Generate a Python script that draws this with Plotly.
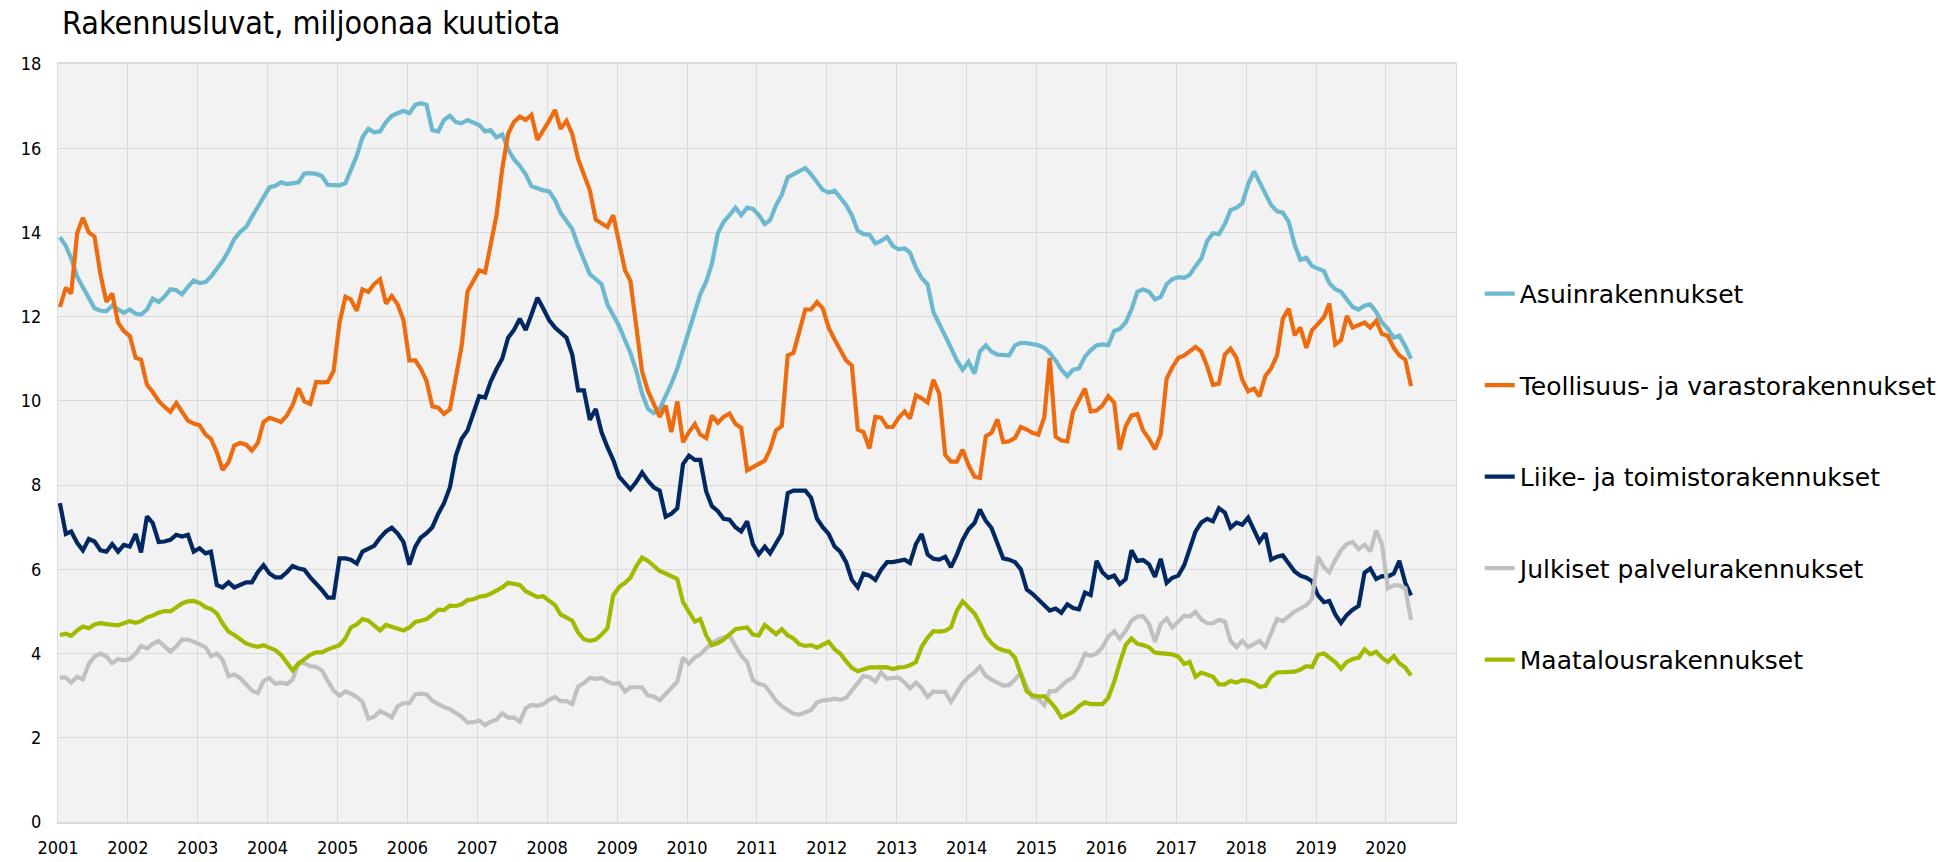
import pandas as pd
import plotly.graph_objects as go

# ---------------- data (monthly, Jan 2001 - May 2020) ----------------
start_month = "2001-01-01"
year_ticks = list(range(2001, 2021))

series_names = [
    "Asuinrakennukset",
    "Teollisuus- ja varastorakennukset",
    "Liike- ja toimistorakennukset",
    "Julkiset palvelurakennukset",
    "Maatalousrakennukset",
]

asuin = [
    13.89, 13.68, 13.38, 12.95, 12.70, 12.47, 12.20, 12.14, 12.13, 12.26, 12.17, 12.09,
    12.17, 12.07, 12.05, 12.17, 12.43, 12.35, 12.47, 12.65, 12.63, 12.53, 12.71, 12.86,
    12.80, 12.82, 12.95, 13.14, 13.32, 13.56, 13.84, 14.01, 14.13, 14.37, 14.60, 14.85,
    15.07, 15.11, 15.19, 15.15, 15.16, 15.19, 15.40, 15.41, 15.39, 15.34, 15.13, 15.12,
    15.12, 15.17, 15.46, 15.82, 16.26, 16.46, 16.38, 16.40, 16.62, 16.77, 16.83, 16.89,
    16.83, 17.03, 17.07, 17.03, 16.43, 16.40, 16.67, 16.77, 16.62, 16.59, 16.67, 16.62,
    16.55, 16.40, 16.43, 16.26, 16.33, 15.98, 15.74, 15.58, 15.38, 15.10, 15.05, 15.00,
    14.98, 14.77, 14.47, 14.25, 14.08, 13.68, 13.32, 13.01, 12.89, 12.77, 12.29, 12.05,
    11.78, 11.44, 11.14, 10.71, 10.17, 9.81, 9.71, 9.81, 10.11, 10.41, 10.77, 11.20,
    11.68, 12.05, 12.53, 12.83, 13.26, 13.98, 14.25, 14.41, 14.59, 14.41, 14.59, 14.56,
    14.41, 14.20, 14.29, 14.65, 14.89, 15.31, 15.38, 15.46, 15.53, 15.38, 15.19, 15.01,
    14.95, 14.99, 14.83, 14.65, 14.41, 14.04, 13.96, 13.95, 13.74, 13.80, 13.89, 13.68,
    13.60, 13.62, 13.52, 13.16, 12.92, 12.77, 12.11, 11.80, 11.54, 11.26, 10.96, 10.74,
    10.93, 10.65, 11.17, 11.32, 11.17, 11.10, 11.10, 11.08, 11.32, 11.38, 11.37, 11.34,
    11.32, 11.26, 11.14, 10.96, 10.74, 10.59, 10.74, 10.77, 11.05, 11.20, 11.32, 11.34,
    11.32, 11.66, 11.71, 11.86, 12.17, 12.59, 12.65, 12.59, 12.41, 12.47, 12.77, 12.89,
    12.94, 12.92, 12.99, 13.20, 13.38, 13.80, 13.98, 13.96, 14.20, 14.53, 14.59, 14.69,
    15.15, 15.45, 15.20, 14.90, 14.65, 14.50, 14.47, 14.25, 13.70, 13.35, 13.40, 13.20,
    13.14, 13.08, 12.80, 12.65, 12.59, 12.39, 12.23, 12.17, 12.26, 12.29, 12.11, 11.86,
    11.71, 11.50, 11.55, 11.30, 11.00,
]

teollisuus = [
    12.23, 12.69, 12.55, 13.98, 14.35, 14.00, 13.90, 13.00, 12.35, 12.55, 11.86, 11.66,
    11.54, 11.02, 10.98, 10.38, 10.21, 10.00, 9.86, 9.74, 9.95, 9.72, 9.53, 9.46,
    9.42, 9.20, 9.10, 8.78, 8.36, 8.54, 8.94, 9.00, 8.96, 8.82, 9.00, 9.50,
    9.60, 9.55, 9.50, 9.65, 9.90, 10.30, 9.99, 9.93, 10.45, 10.44, 10.45, 10.71,
    11.86, 12.47, 12.41, 12.14, 12.65, 12.59, 12.77, 12.89, 12.31, 12.49, 12.29, 11.92,
    10.96, 10.96, 10.77, 10.47, 9.87, 9.84, 9.69, 9.80, 10.60, 11.30, 12.60, 12.85,
    13.10, 13.05, 13.70, 14.40, 15.50, 16.34, 16.62, 16.75, 16.67, 16.79, 16.20, 16.40,
    16.65, 16.91, 16.46, 16.65, 16.34, 15.74, 15.38, 15.00, 14.30, 14.22, 14.13, 14.41,
    13.74, 13.10, 12.85, 11.80, 10.70, 10.23, 9.95, 9.62, 9.89, 9.26, 9.99, 9.02,
    9.26, 9.45, 9.20, 9.12, 9.65, 9.48, 9.62, 9.70, 9.45, 9.36, 8.35, 8.42,
    8.50, 8.58, 8.85, 9.30, 9.40, 11.08, 11.14, 11.62, 12.17, 12.17, 12.35, 12.20,
    11.74, 11.46, 11.22, 10.96, 10.84, 9.32, 9.26, 8.87, 9.62, 9.60, 9.38, 9.38,
    9.60, 9.75, 9.58, 10.13, 10.06, 9.96, 10.50, 10.17, 8.72, 8.56, 8.56, 8.84,
    8.47, 8.20, 8.17, 9.16, 9.24, 9.56, 9.02, 9.04, 9.12, 9.38, 9.32, 9.24,
    9.20, 9.62, 11.02, 9.15, 9.06, 9.04, 9.75, 10.00, 10.29, 9.75, 9.77, 9.89,
    10.11, 9.96, 8.84, 9.40, 9.65, 9.69, 9.30, 9.10, 8.85, 9.20, 10.53, 10.80,
    11.02, 11.08, 11.17, 11.28, 11.17, 10.82, 10.38, 10.41, 11.10, 11.24, 11.02, 10.50,
    10.23, 10.29, 10.11, 10.59, 10.77, 11.08, 11.95, 12.19, 11.56, 11.74, 11.26, 11.68,
    11.83, 11.99, 12.31, 11.34, 11.44, 12.02, 11.74, 11.80, 11.86, 11.74, 11.90, 11.59,
    11.54, 11.26, 11.08, 10.98, 10.35,
]

liike = [
    7.57, 6.84, 6.90, 6.63, 6.45, 6.72, 6.66, 6.45, 6.42, 6.60, 6.42, 6.58,
    6.54, 6.84, 6.40, 7.26, 7.10, 6.65, 6.66, 6.70, 6.82, 6.78, 6.82, 6.42,
    6.50, 6.38, 6.42, 5.63, 5.57, 5.69, 5.57, 5.63, 5.69, 5.69, 5.93, 6.10,
    5.90, 5.81, 5.81, 5.93, 6.08, 6.02, 5.99, 5.81, 5.67, 5.51, 5.33, 5.33,
    6.26, 6.26, 6.23, 6.14, 6.42, 6.48, 6.56, 6.75, 6.90, 6.99, 6.85, 6.65,
    6.11, 6.54, 6.75, 6.86, 7.00, 7.32, 7.57, 7.95, 8.70, 9.10, 9.30, 9.70,
    10.11, 10.08, 10.45, 10.75, 11.00, 11.50, 11.68, 11.95, 11.68, 12.05, 12.45, 12.20,
    11.92, 11.74, 11.62, 11.50, 11.10, 10.25, 10.25, 9.55, 9.81, 9.26, 8.90, 8.60,
    8.20, 8.05, 7.90, 8.08, 8.30, 8.10, 7.95, 7.87, 7.25, 7.32, 7.45, 8.50,
    8.70, 8.60, 8.60, 7.85, 7.50, 7.38, 7.20, 7.18, 7.00, 6.90, 7.14, 6.60,
    6.36, 6.54, 6.38, 6.62, 6.85, 7.81, 7.87, 7.87, 7.87, 7.70, 7.20, 7.00,
    6.84, 6.54, 6.42, 6.17, 5.75, 5.57, 5.90, 5.85, 5.75, 5.99, 6.17, 6.17,
    6.20, 6.23, 6.15, 6.60, 6.84, 6.35, 6.25, 6.23, 6.30, 6.05, 6.35, 6.70,
    6.95, 7.10, 7.42, 7.15, 6.98, 6.60, 6.26, 6.23, 6.17, 6.00, 5.52, 5.42,
    5.28, 5.16, 5.02, 5.07, 4.97, 5.17, 5.08, 5.05, 5.45, 5.39, 6.20, 5.93,
    5.80, 5.85, 5.65, 5.77, 6.45, 6.20, 6.22, 6.12, 5.82, 6.25, 5.68, 5.80,
    5.85, 6.10, 6.50, 6.90, 7.11, 7.20, 7.14, 7.45, 7.35, 6.99, 7.11, 7.06,
    7.23, 6.90, 6.66, 6.86, 6.23, 6.30, 6.33, 6.14, 5.95, 5.85, 5.80, 5.72,
    5.38, 5.22, 5.25, 4.93, 4.73, 4.92, 5.04, 5.13, 5.92, 6.02, 5.77, 5.84,
    5.83, 5.90, 6.20, 5.68, 5.38,
]

julkiset = [
    3.43, 3.43, 3.31, 3.45, 3.39, 3.75, 3.93, 4.00, 3.93, 3.77, 3.87, 3.84,
    3.87, 4.00, 4.18, 4.12, 4.23, 4.30, 4.17, 4.05, 4.17, 4.33, 4.33, 4.28,
    4.22, 4.15, 3.94, 4.00, 3.85, 3.46, 3.50, 3.42, 3.25, 3.12, 3.06, 3.35,
    3.42, 3.28, 3.31, 3.28, 3.38, 3.78, 3.77, 3.70, 3.68, 3.60, 3.35, 3.12,
    3.00, 3.10, 3.05, 2.97, 2.85, 2.45, 2.50, 2.63, 2.57, 2.48, 2.75, 2.82,
    2.82, 3.03, 3.05, 3.03, 2.88, 2.80, 2.73, 2.68, 2.60, 2.50, 2.36, 2.37,
    2.41, 2.30, 2.38, 2.43, 2.58, 2.48, 2.48, 2.38, 2.70, 2.78, 2.76, 2.80,
    2.90, 2.97, 2.87, 2.87, 2.80, 3.22, 3.30, 3.42, 3.40, 3.42, 3.34, 3.28,
    3.30, 3.10, 3.20, 3.20, 3.20, 3.00, 2.98, 2.89, 3.05, 3.17, 3.33, 3.90,
    3.76, 3.91, 3.98, 4.12, 4.25, 4.33, 4.37, 4.43, 4.18, 3.95, 3.80, 3.37,
    3.28, 3.24, 3.08, 2.88, 2.75, 2.65, 2.57, 2.55, 2.60, 2.66, 2.84, 2.89,
    2.90, 2.93, 2.90, 2.95, 3.12, 3.30, 3.47, 3.44, 3.33, 3.55, 3.40, 3.42,
    3.43, 3.31, 3.17, 3.31, 3.18, 2.97, 3.10, 3.09, 3.09, 2.85, 3.09, 3.30,
    3.45, 3.55, 3.69, 3.47, 3.38, 3.31, 3.24, 3.25, 3.38, 3.55, 3.20, 2.96,
    2.92, 2.77, 3.11, 3.11, 3.24, 3.36, 3.43, 3.67, 4.00, 3.95, 4.00, 4.15,
    4.40, 4.53, 4.35, 4.54, 4.78, 4.88, 4.89, 4.70, 4.28, 4.70, 4.83, 4.62,
    4.76, 4.90, 4.88, 4.99, 4.81, 4.72, 4.72, 4.80, 4.76, 4.30, 4.15, 4.30,
    4.15, 4.24, 4.30, 4.16, 4.50, 4.82, 4.77, 4.88, 5.00, 5.07, 5.15, 5.30,
    6.30, 6.05, 5.93, 6.22, 6.45, 6.60, 6.65, 6.48, 6.58, 6.43, 6.92, 6.60,
    5.55, 5.62, 5.62, 5.55, 4.80,
]

maatalous = [
    4.44, 4.47, 4.42, 4.55, 4.64, 4.60, 4.69, 4.72, 4.70, 4.68, 4.67, 4.72,
    4.77, 4.73, 4.77, 4.86, 4.90, 4.97, 5.01, 5.00, 5.10, 5.19, 5.24, 5.25,
    5.20, 5.10, 5.06, 4.95, 4.72, 4.52, 4.44, 4.34, 4.24, 4.19, 4.16, 4.20,
    4.15, 4.08, 3.97, 3.78, 3.60, 3.76, 3.86, 3.97, 4.03, 4.03, 4.10, 4.15,
    4.20, 4.36, 4.62, 4.69, 4.82, 4.78, 4.66, 4.55, 4.68, 4.64, 4.60, 4.55,
    4.62, 4.75, 4.78, 4.82, 4.92, 5.04, 5.03, 5.14, 5.13, 5.17, 5.27, 5.29,
    5.35, 5.37, 5.42, 5.50, 5.57, 5.68, 5.65, 5.63, 5.48, 5.41, 5.34, 5.36,
    5.25, 5.15, 4.93, 4.84, 4.78, 4.50, 4.34, 4.30, 4.33, 4.45, 4.60, 5.38,
    5.58, 5.68, 5.80, 6.08, 6.28, 6.20, 6.07, 5.96, 5.90, 5.84, 5.77, 5.22,
    5.00, 4.76, 4.82, 4.43, 4.20, 4.25, 4.33, 4.45, 4.58, 4.60, 4.62, 4.45,
    4.43, 4.68, 4.56, 4.46, 4.58, 4.43, 4.36, 4.22, 4.18, 4.20, 4.14, 4.20,
    4.28, 4.10, 4.00, 3.82, 3.66, 3.58, 3.62, 3.67, 3.67, 3.67, 3.68, 3.63,
    3.67, 3.68, 3.72, 3.80, 4.16, 4.38, 4.53, 4.52, 4.54, 4.62, 5.02, 5.24,
    5.10, 4.95, 4.72, 4.42, 4.25, 4.13, 4.08, 4.05, 3.90, 3.47, 3.10, 3.01,
    2.98, 2.99, 2.87, 2.70, 2.48, 2.55, 2.62, 2.75, 2.84, 2.80, 2.80, 2.80,
    2.95, 3.33, 3.78, 4.20, 4.36, 4.23, 4.20, 4.15, 4.02, 4.00, 3.98, 3.98,
    3.93, 3.75, 3.80, 3.45, 3.55, 3.50, 3.45, 3.27, 3.27, 3.35, 3.31, 3.37,
    3.35, 3.30, 3.21, 3.23, 3.45, 3.55, 3.56, 3.56, 3.57, 3.62, 3.70, 3.68,
    3.97, 4.00, 3.90, 3.80, 3.64, 3.80, 3.87, 3.90, 4.10, 3.98, 4.04, 3.90,
    3.80, 3.94, 3.77, 3.67, 3.48,
]

colors = ["#6CB8CF", "#EC6C0F", "#022862", "#C0C0C0", "#A3B900"]

# ---------------- figure ----------------
months = pd.date_range(start_month, periods=len(asuin), freq="MS") + pd.Timedelta(days=10)
all_series = [asuin, teollisuus, liike, julkiset, maatalous]

fig = go.Figure()
for name, vals, col in zip(series_names, all_series, colors):
    fig.add_trace(go.Scatter(
        x=months, y=vals, name=name, mode="lines",
        line=dict(color=col, width=4.2), legendgroup=name,
    ))

tick_font = dict(family="DejaVu Sans Condensed, Liberation Sans Narrow, sans-serif",
                 size=18, color="#000000")
grid_col = "#DADADA"

fig.update_layout(
    width=1947, height=862,
    margin=dict(l=58, r=491, t=64, b=40, autoexpand=False),
    paper_bgcolor="#FFFFFF",
    plot_bgcolor="#F2F2F2",
    title=dict(
        text="Rakennusluvat, miljoonaa kuutiota",
        x=62 / 1947, xref="container", xanchor="left",
        y=1 - 23 / 862, yref="container", yanchor="middle",
        font=dict(family="DejaVu Sans Condensed, Liberation Sans Narrow, sans-serif",
                  size=32, color="#000000"),
    ),
    legend=dict(
        x=1.017, xanchor="left", y=0.727, yanchor="top",
        font=dict(family="DejaVu Sans, sans-serif", size=25, color="#000000"),
        tracegroupgap=56, itemwidth=30, bgcolor="rgba(0,0,0,0)",
    ),
    showlegend=True,
)

fig.update_xaxes(
    range=["2001-01-01", "2021-01-01"],
    tickvals=[f"{y}-01-01" for y in year_ticks],
    ticktext=[str(y) for y in year_ticks],
    showgrid=True, gridcolor=grid_col, gridwidth=1,
    showline=True, linecolor=grid_col, linewidth=2, mirror=True,
    ticks="", tickfont=tick_font, ticklabelstandoff=8, automargin=False,
)
fig.update_yaxes(
    range=[0, 18], dtick=2, tick0=0,
    showgrid=True, gridcolor=grid_col, gridwidth=1,
    showline=True, linecolor=grid_col, linewidth=1, mirror=True,
    zeroline=False, automargin=False,
    ticks="", tickfont=tick_font, ticklabelstandoff=12,
)

fig.write_html("out.html", config={"displayModeBar": False},
               post_script="document.body.style.margin='0';")
